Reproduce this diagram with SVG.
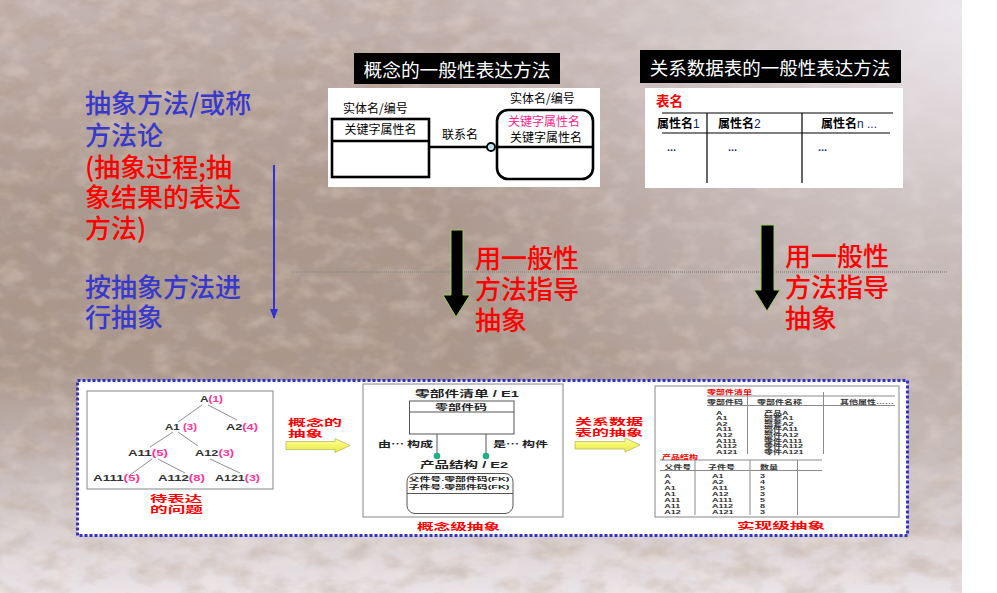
<svg xmlns="http://www.w3.org/2000/svg" width="997" height="593" viewBox="0 0 997 593">
  <defs>
    <linearGradient id="bgV" x1="0" y1="0" x2="0" y2="1">
      <stop offset="0" stop-color="#c4b5b1"/>
      <stop offset="0.35" stop-color="#ab988f"/>
      <stop offset="0.62" stop-color="#aa988e"/>
      <stop offset="0.82" stop-color="#cdc2c1"/>
      <stop offset="1" stop-color="#e9e4e8"/>
    </linearGradient>
    <radialGradient id="bgGlow" cx="960" cy="10" r="560" gradientUnits="userSpaceOnUse">
      <stop offset="0" stop-color="#eeeaf0" stop-opacity="0.95"/>
      <stop offset="0.45" stop-color="#e4dee4" stop-opacity="0.5"/>
      <stop offset="1" stop-color="#e4dee4" stop-opacity="0"/>
    </radialGradient>
    <filter id="grain" filterUnits="userSpaceOnUse" x="0" y="0" width="962" height="593">
      <feTurbulence type="fractalNoise" baseFrequency="0.03 0.05" numOctaves="4" seed="11"/>
      <feColorMatrix type="matrix" values="0 0 0 0 0.42  0 0 0 0 0.29  0 0 0 0 0.2  2.6 0 0 0 -1.05"/>
    </filter>
    <filter id="glint" filterUnits="userSpaceOnUse" x="0" y="0" width="962" height="593">
      <feTurbulence type="fractalNoise" baseFrequency="0.04 0.06" numOctaves="3" seed="4"/>
      <feColorMatrix type="matrix" values="0 0 0 0 0.93  0 0 0 0 0.8  0 0 0 0 0.72  0 2.6 0 0 -1.15"/>
    </filter>
    <linearGradient id="yel" x1="0" y1="0" x2="0" y2="1">
      <stop offset="0" stop-color="#ffffa0"/>
      <stop offset="1" stop-color="#eaea3c"/>
    </linearGradient>
    <marker id="blueHead" viewBox="0 0 10 10" refX="9" refY="5" markerWidth="5" markerHeight="5" orient="auto">
      <path d="M0,1 L10,5 L0,9 Z" fill="#3333cc"/>
    </marker>
    <style>
      .cjk { font-family: "Noto Sans CJK SC", "Liberation Sans", sans-serif; }
      .mix { font-family: "Liberation Sans", "Noto Sans CJK SC", sans-serif; }
      .big { font-size: 26px; font-weight: 500; }
      .blue { fill: #3838cc; }
      .red { fill: #ff0000; }
      .pink { fill: #ff3399; }
      .title { font-size: 18.7px; fill: #ffffff; }
      .small { font-size: 12px; fill: #000; }
      .bold { font-weight: bold; }
      .panel { fill: #ffffff; stroke: #9a9a9a; stroke-width: 1.2; }
      .er { fill: none; stroke: #000; stroke-width: 2.6; }
      .erThin { fill: none; stroke: #555; stroke-width: 1; }
      .grid { stroke: #000; stroke-width: 1.2; }
      .tgrid { stroke: #8a8a8a; stroke-width: 1; }
      .tree { stroke: #8f8f8f; stroke-width: 1; }
      .tl { font-size: 8.5px; font-weight: bold; fill: #333; }
      .tiny { font-size: 6.2px; font-weight: bold; fill: #333; }
      .lbl { font-size: 9.5px; font-weight: bold; }
      .blk { fill: #000; stroke: #9acd60; stroke-width: 1; }
      .yarrow { fill: url(#yel); stroke: #b8b860; stroke-width: 0.8; }
    </style>
  </defs>

  <!-- background -->
  <rect x="0" y="0" width="997" height="593" fill="#ffffff"/>
  <rect x="0" y="0" width="962" height="593" fill="url(#bgV)"/>
  <rect x="0" y="0" width="962" height="593" filter="url(#grain)" opacity="0.3"/>
  <rect x="0" y="0" width="962" height="593" filter="url(#glint)" opacity="0.25"/>
  <rect x="0" y="0" width="962" height="593" fill="url(#bgGlow)"/>

  <!-- left description -->
  <g id="method-text" class="cjk big">
    <text x="85" y="113" class="blue">抽象方法/或称</text>
    <text x="85" y="145" class="blue">方法论</text>
    <text x="85" y="177" class="red">(抽象过程;抽</text>
    <text x="85" y="207" class="red">象结果的表达</text>
    <text x="85" y="238" class="red">方法)</text>
    <text x="85" y="297" class="blue">按抽象方法进</text>
    <text x="85" y="327" class="blue">行抽象</text>
  </g>

  <!-- separator -->
  <line x1="292" y1="272" x2="948" y2="272" stroke="#8c8c8c" stroke-width="1.5" stroke-dasharray="1 1"/>

  <!-- conceptual notation -->
  <g id="concept-notation">
    <rect x="354" y="53" width="206" height="31" fill="#000"/>
    <text x="457" y="77" text-anchor="middle" class="cjk title">概念的一般性表达方法</text>
    <rect x="328" y="88" width="272" height="99" fill="#fff"/>
    <text x="343" y="113" class="cjk small">实体名/编号</text>
    <rect x="332" y="119" width="97" height="58" class="er"/>
    <line x1="332" y1="141" x2="429" y2="141" class="er"/>
    <text x="380.5" y="134" text-anchor="middle" class="cjk small">关键字属性名</text>
    <text x="442" y="139" class="cjk small">联系名</text>
    <text x="510" y="103" class="cjk small">实体名/编号</text>
    <rect x="497" y="110" width="96" height="69" rx="11" class="er"/>
    <line x1="497" y1="147" x2="593" y2="147" class="er"/>
    <text x="544" y="126" text-anchor="middle" class="cjk small" style="fill:#ff1a8c">关键字属性名</text>
    <text x="546" y="142" text-anchor="middle" class="cjk small">关键字属性名</text>
  </g>

  <!-- relational table notation -->
  <g id="table-notation">
    <rect x="640" y="50" width="261" height="33" fill="#000"/>
    <text x="770" y="75" text-anchor="middle" class="cjk title" style="font-size:18.5px">关系数据表的一般性表达方法</text>
    <rect x="645" y="88" width="258" height="100" fill="#fff"/>
    <text x="656" y="106" class="cjk bold red" style="font-size:13.5px">表名</text>
    <line x1="662" y1="113" x2="893" y2="113" class="grid"/>
    <line x1="662" y1="133" x2="890" y2="133" class="grid"/>
    <line x1="707" y1="113" x2="707" y2="183" class="grid"/>
    <line x1="802" y1="113" x2="802" y2="183" class="grid"/>
    <text x="657" y="128" class="cjk small bold">属性名<tspan class="mix" style="font-weight:normal;fill:#1a1a60">1</tspan></text>
    <text x="718" y="128" class="cjk small bold">属性名<tspan class="mix" style="font-weight:normal;fill:#1a1a60">2</tspan></text>
    <text x="821" y="128" class="cjk small bold">属性名<tspan class="mix" style="font-weight:normal;fill:#1a1a60">n ...</tspan></text>
    <text x="667" y="151" class="mix bold" style="font-size:11px;fill:#2a2a8a">...</text>
    <text x="728" y="151" class="mix bold" style="font-size:11px;fill:#2a2a8a">...</text>
    <text x="818" y="151" class="mix bold" style="font-size:11px;fill:#2a2a8a">...</text>
  </g>

  <!-- guidance arrows and labels -->
  <g id="guide-concept">
    <polygon points="451,230 463,230 463,295 470,295 456,317 443,295 451,295" class="blk"/>
    <text x="475" y="268" class="cjk big red">用一般性</text>
    <text x="475" y="299" class="cjk big red">方法指导</text>
    <text x="475" y="330" class="cjk big red">抽象</text>
  </g>
  <g id="guide-table">
    <polygon points="761,225 774,225 774,290 780,290 767,311 754,290 761,290" class="blk"/>
    <text x="785" y="266" class="cjk big red">用一般性</text>
    <text x="785" y="297" class="cjk big red">方法指导</text>
    <text x="785" y="328" class="cjk big red">抽象</text>
  </g>

  <!-- example frame -->
  <rect x="77.5" y="380.5" width="830" height="155" fill="#ffffff" stroke="#3333cc" stroke-width="3" stroke-dasharray="3 2"/>

  <!-- problem tree -->
  <g id="problem-tree">
    <rect x="87" y="391" width="186" height="98" class="panel"/>
    <g class="tree">
      <line x1="202" y1="405" x2="178" y2="422"/>
      <line x1="208" y1="405" x2="237" y2="420"/>
      <line x1="173" y1="432" x2="150" y2="447"/>
      <line x1="178" y1="432" x2="198" y2="446"/>
      <line x1="152" y1="459" x2="130" y2="475"/>
      <line x1="158" y1="459" x2="185" y2="473"/>
      <line x1="210" y1="459" x2="240" y2="473"/>
    </g>
    <g class="mix tl">
      <text x="200" y="402" textLength="23" lengthAdjust="spacingAndGlyphs">A<tspan class="pink">(1)</tspan></text>
      <text x="165" y="430" textLength="32" lengthAdjust="spacingAndGlyphs">A1 <tspan class="pink">(3)</tspan></text>
      <text x="226" y="430" textLength="32" lengthAdjust="spacingAndGlyphs">A2<tspan class="pink">(4)</tspan></text>
      <text x="128" y="456" textLength="40" lengthAdjust="spacingAndGlyphs">A11<tspan class="pink">(5)</tspan></text>
      <text x="195" y="456" textLength="39" lengthAdjust="spacingAndGlyphs">A12<tspan class="pink">(3)</tspan></text>
      <text x="93" y="481" textLength="47" lengthAdjust="spacingAndGlyphs">A111<tspan class="pink">(5)</tspan></text>
      <text x="158" y="481" textLength="47" lengthAdjust="spacingAndGlyphs">A112<tspan class="pink">(8)</tspan></text>
      <text x="215" y="481" textLength="45" lengthAdjust="spacingAndGlyphs">A121<tspan class="pink">(3)</tspan></text>
    </g>
    <text x="150" y="501.5" class="cjk lbl red" textLength="52" lengthAdjust="spacingAndGlyphs">待表达</text>
    <text x="150" y="512.5" class="cjk lbl red" textLength="53" lengthAdjust="spacingAndGlyphs">的问题</text>
  </g>

  <!-- step arrows -->
  <g id="step-concept">
    <polygon points="286,441.5 335,441.5 335,438.5 350,445.5 335,452.5 335,449.5 286,449.5" class="yarrow"/>
    <text x="288" y="426" class="cjk lbl red" textLength="54" lengthAdjust="spacingAndGlyphs">概念的</text>
    <text x="288" y="437" class="cjk lbl red" textLength="35" lengthAdjust="spacingAndGlyphs">抽象</text>
  </g>
  <g id="step-table">
    <polygon points="575,441.5 625,441.5 625,438 640,445 625,452 625,449 575,449" class="yarrow"/>
    <text x="575" y="425" class="cjk lbl red" textLength="68" lengthAdjust="spacingAndGlyphs">关系数据</text>
    <text x="575" y="436" class="cjk lbl red" textLength="68" lengthAdjust="spacingAndGlyphs">表的抽象</text>
  </g>

  <!-- conceptual level model -->
  <g id="concept-level">
    <rect x="363" y="384" width="200" height="133" class="panel"/>
    <text x="415" y="397" class="mix bold" style="font-size:9.5px;fill:#222" textLength="104" lengthAdjust="spacingAndGlyphs">零部件清单 / E1</text>
    <rect x="409.5" y="401" width="104.5" height="33" class="erThin"/>
    <line x1="409.5" y1="412" x2="514" y2="412" class="erThin"/>
    <text x="435" y="409.5" class="cjk bold" style="font-size:7.5px;fill:#222" textLength="52" lengthAdjust="spacingAndGlyphs">零部件码</text>
    <text x="378" y="446.5" class="cjk bold" style="font-size:8.5px;fill:#222" textLength="55" lengthAdjust="spacingAndGlyphs">由… 构成</text>
    <text x="493" y="446.5" class="cjk bold" style="font-size:8.5px;fill:#222" textLength="55" lengthAdjust="spacingAndGlyphs">是… 构件</text>
    <text x="420" y="468" class="mix bold" style="font-size:9.5px;fill:#222" textLength="88" lengthAdjust="spacingAndGlyphs">产品结构 / E2</text>
    <rect x="407" y="473.5" width="106" height="40" rx="8" class="erThin"/>
    <line x1="407" y1="493.5" x2="513" y2="493.5" class="erThin"/>
    <text x="408.5" y="481" class="mix bold" style="font-size:6px;fill:#222" textLength="101" lengthAdjust="spacingAndGlyphs">父件号.零部件码(FK)</text>
    <text x="408.5" y="488.5" class="mix bold" style="font-size:6px;fill:#222" textLength="101" lengthAdjust="spacingAndGlyphs">子件号.零部件码(FK)</text>
    <text x="417" y="530" class="cjk lbl red" textLength="83" lengthAdjust="spacingAndGlyphs">概念级抽象</text>
  </g>

  <!-- implementation level tables -->
  <g id="impl-level">
    <rect x="655" y="386" width="244" height="131" class="panel"/>
    <g class="tgrid">
      <line x1="707" y1="396" x2="895" y2="396"/>
      <line x1="707" y1="405.5" x2="895" y2="405.5"/>
      <line x1="747.5" y1="392" x2="747.5" y2="454"/>
      <line x1="823.5" y1="392" x2="823.5" y2="454"/>
      <line x1="660" y1="460" x2="822" y2="460"/>
      <line x1="660" y1="470.5" x2="822" y2="470.5"/>
      <line x1="695" y1="460" x2="695" y2="515"/>
      <line x1="750" y1="460" x2="750" y2="515"/>
      <line x1="797.5" y1="460" x2="797.5" y2="515"/>
    </g>
    <g class="mix tiny">
      <g transform="translate(707 0) scale(1.45 1)">
        <text x="0" y="394" style="fill:#ff0000">零部件清单</text>
        <text x="0" y="404">零部件码</text>
      </g>
      <g transform="translate(757 0) scale(1.45 1)"><text x="0" y="404">零部件名称</text></g>
      <g transform="translate(840 0) scale(1.45 1)"><text x="0" y="404">其他属性……</text></g>
      <g transform="translate(716 0) scale(1.45 1)">
        <text x="0" y="414.7">A</text>
        <text x="0" y="420.3">A1</text>
        <text x="0" y="425.9">A2</text>
        <text x="0" y="431.5">A11</text>
        <text x="0" y="437.1">A12</text>
        <text x="0" y="442.7">A111</text>
        <text x="0" y="448.3">A112</text>
        <text x="0" y="454">A121</text>
      </g>
      <g transform="translate(764 0) scale(1.45 1)">
        <text x="0" y="414.7">产品A</text>
        <text x="0" y="420.3">部套A1</text>
        <text x="0" y="425.9">部套A2</text>
        <text x="0" y="431.5">部件A11</text>
        <text x="0" y="437.1">部件A12</text>
        <text x="0" y="442.7">零件A111</text>
        <text x="0" y="448.3">零件A112</text>
        <text x="0" y="454">零件A121</text>
      </g>
      <g transform="translate(662 0) scale(1.45 1)">
        <text x="0" y="459" style="fill:#ff0000">产品结构</text>
        <text x="1.5" y="469">父件号</text>
        <text x="1.5" y="478">A</text>
        <text x="1.5" y="484">A</text>
        <text x="1.5" y="490">A1</text>
        <text x="1.5" y="496">A1</text>
        <text x="1.5" y="502">A11</text>
        <text x="1.5" y="508">A11</text>
        <text x="1.5" y="514">A12</text>
      </g>
      <g transform="translate(708 0) scale(1.45 1)"><text x="0" y="469">子件号</text></g>
      <g transform="translate(712 0) scale(1.45 1)">
        <text x="0" y="478">A1</text>
        <text x="0" y="484">A2</text>
        <text x="0" y="490">A11</text>
        <text x="0" y="496">A12</text>
        <text x="0" y="502">A111</text>
        <text x="0" y="508">A112</text>
        <text x="0" y="514">A121</text>
      </g>
      <g transform="translate(760 0) scale(1.45 1)">
        <text x="0" y="469">数量</text>
        <text x="0" y="478">3</text>
        <text x="0" y="484">4</text>
        <text x="0" y="490">5</text>
        <text x="0" y="496">3</text>
        <text x="0" y="502">5</text>
        <text x="0" y="508">8</text>
        <text x="0" y="514">3</text>
      </g>
    </g>
    <text x="737" y="529" class="cjk lbl red" textLength="88" lengthAdjust="spacingAndGlyphs">实现级抽象</text>
  </g>

  <!-- connectors -->
  <g id="connectors">
    <line x1="429" y1="147" x2="487" y2="147" stroke="#000" stroke-width="2.6"/>
    <circle cx="491" cy="147" r="4" fill="#bfe3ea" stroke="#000" stroke-width="1.8"/>
    <line x1="437" y1="434" x2="437" y2="453" stroke="#555" stroke-width="1"/>
    <line x1="486" y1="434" x2="486" y2="453" stroke="#555" stroke-width="1"/>
    <circle cx="437" cy="456" r="3.3" fill="#1fb089"/>
    <circle cx="486" cy="456" r="3.3" fill="#1fb089"/>
    <line x1="274" y1="165" x2="274" y2="318" stroke="#3333cc" stroke-width="2" marker-end="url(#blueHead)"/>
  </g>
</svg>
